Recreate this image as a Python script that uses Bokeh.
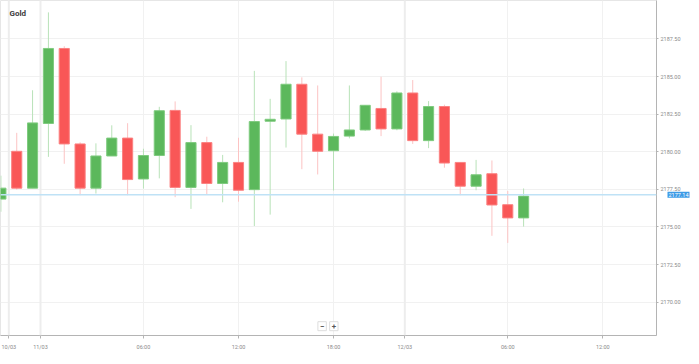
from bokeh.plotting import figure
from bokeh.models import (ColumnDataSource, FixedTicker, Span, Label, Range1d,
                          PrintfTickFormatter)
from bokeh.embed import file_html
from bokeh.resources import INLINE

# ---- data (hourly candles) ----
opens  = [2176.85, 2180.03, 2177.58, 2181.88, 2186.87, 2180.52, 2177.58, 2179.72,
          2180.91, 2178.19, 2179.75, 2182.75, 2177.63, 2180.61, 2177.89, 2179.29,
          2177.48, 2182.03, 2182.18, 2184.49, 2181.17, 2180.07, 2181.04, 2181.45,
          2182.88, 2181.52, 2183.91, 2180.74, 2183.01, 2179.29, 2177.71, 2178.54,
          2176.48, 2175.60]
highs  = [2178.41, 2181.26, 2184.09, 2189.27, 2187.02, 2180.63, 2180.56, 2181.76,
          2181.90, 2180.20, 2182.99, 2183.35, 2181.77, 2181.00, 2179.79, 2180.93,
          2185.38, 2183.52, 2186.03, 2184.95, 2184.41, 2181.21, 2184.41, 2183.09,
          2184.99, 2184.02, 2184.77, 2183.37, 2183.13, 2179.31, 2179.46, 2179.42,
          2177.39, 2177.56]
lows   = [2176.01, 2177.48, 2177.58, 2179.66, 2179.20, 2177.11, 2177.22, 2179.72,
          2177.11, 2177.55, 2178.23, 2176.98, 2176.20, 2177.16, 2176.64, 2176.68,
          2175.06, 2175.82, 2180.28, 2178.84, 2178.49, 2177.42, 2180.89, 2181.39,
          2181.04, 2181.43, 2180.52, 2180.24, 2178.94, 2177.11, 2177.44, 2174.41,
          2173.94, 2175.02]
closes = [2177.58, 2177.58, 2181.92, 2186.87, 2180.52, 2177.58, 2179.72, 2180.91,
          2178.15, 2179.75, 2182.73, 2177.63, 2180.61, 2177.89, 2179.29, 2177.44,
          2182.01, 2182.16, 2184.49, 2181.17, 2180.03, 2181.02, 2181.45, 2183.09,
          2181.52, 2183.91, 2180.74, 2183.01, 2179.25, 2177.71, 2178.47, 2176.46,
          2175.60, 2177.05]

time_tick_positions = [0.5, 2.5, 9, 15, 21, 25.5, 32, 38]
time_tick_labels = ["10/03", "11/03", "06:00", "12:00", "18:00", "12/03", "06:00", "12:00"]
day_tick_positions = [0.5, 2.5, 25.5]
price_ticks = [2170.0, 2172.5, 2175.0, 2177.5, 2180.0, 2182.5, 2185.0, 2187.5]
last_price = 2177.14
last_price_label = "2177.14"
title_text = "Gold"

# ---- build ----
INC_FILL, INC_LINE, INC_WICK = "#5cb85c", "#7fcb7f", "#b8e2b8"
DEC_FILL, DEC_LINE, DEC_WICK = "#f95757", "#fb8282", "#fcc3c3"

xs = list(range(len(opens)))
up = [c >= o for o, c in zip(opens, closes)]
src = ColumnDataSource(dict(
    x=xs, high=highs, low=lows,
    top=[max(o, c) for o, c in zip(opens, closes)],
    bottom=[min(o, c) for o, c in zip(opens, closes)],
    fill=[INC_FILL if u else DEC_FILL for u in up],
    line=[INC_LINE if u else DEC_LINE for u in up],
    wick=[INC_WICK if u else DEC_WICK for u in up],
))

x0, x1 = -0.025, 41.39
y0, y1 = 2167.78, 2190.06
FW, FH = 656, 335

p = figure(frame_width=FW, frame_height=FH, x_range=Range1d(x0, x1), y_range=Range1d(y0, y1),
           output_backend="svg", toolbar_location=None, y_axis_location="right",
           min_border_left=0, min_border_top=0, min_border_right=0, min_border_bottom=0)
p.background_fill_color = "white"
p.border_fill_color = "white"
p.outline_line_color = "#e6e6e6"

FONT = "Roboto"
# right (price) axis
p.yaxis.ticker = FixedTicker(ticks=price_ticks)
p.yaxis.formatter = PrintfTickFormatter(format="%.2f")
p.yaxis.axis_line_color = "#b4b4b4"
p.yaxis.major_tick_line_color = "#b4b4b4"
p.yaxis.major_tick_in = 0
p.yaxis.major_tick_out = 2
p.yaxis.minor_tick_line_color = None
p.yaxis.major_label_text_font = FONT
p.yaxis.major_label_text_font_size = "5.5px"
p.yaxis.major_label_text_color = "#8a8a8a"
p.yaxis.major_label_standoff = 2
p.yaxis.axis_label_standoff = 0

# bottom (time) axis
p.xaxis.ticker = FixedTicker(ticks=time_tick_positions)
p.xaxis.major_label_overrides = {pos: lab for pos, lab in zip(time_tick_positions, time_tick_labels)}
p.xaxis.axis_line_color = "#b4b4b4"
p.xaxis.major_tick_line_color = "#b4b4b4"
p.xaxis.major_tick_in = 0
p.xaxis.major_tick_out = 3
p.xaxis.minor_tick_line_color = None
p.xaxis.major_label_text_font = FONT
p.xaxis.major_label_text_font_size = "5.5px"
p.xaxis.major_label_text_color = "#8a8a8a"
p.xaxis.major_label_standoff = 5
p.xaxis.axis_label_standoff = 0

p.xgrid.ticker = FixedTicker(ticks=time_tick_positions)
p.ygrid.ticker = FixedTicker(ticks=price_ticks)
p.xgrid.grid_line_color = "#f1f1f1"
p.ygrid.grid_line_color = "#f1f1f1"

for d in day_tick_positions:
    p.add_layout(Span(location=d, dimension="height", line_color="#ededed", line_width=2))

# candles
p.segment(x0="x", y0="high", x1="x", y1="low", line_color="wick", line_width=1, source=src)
p.vbar(x="x", width=0.64, top="top", bottom="bottom", fill_color="fill",
       line_color="line", line_width=1, source=src)

# last price line and tag (tag drawn over the price-axis strip)
p.add_layout(Span(location=last_price, dimension="width", line_color="#bfe2f6", line_width=1.5))
p.add_layout(Label(x=-16, y=last_price, x_units="screen", text=last_price_label,
                   text_font=FONT, text_font_size="5.5px", text_color="white",
                   text_baseline="middle", background_fill_color="#3d9be6",
                   padding=1), "right")

# title
p.add_layout(Label(x=x0, y=y1, x_offset=9, y_offset=-8, text=title_text,
                   text_font=FONT, text_font_size="8px", text_font_style="bold",
                   text_color="#3a3a3a", text_baseline="top"))

# zoom buttons
btn_y = 2168.40
for bx, sym in [(20.28, "\u2212"), (21.02, "+")]:
    p.add_layout(Label(x=bx, y=btn_y, text=sym, text_font=FONT, text_font_size="8px",
                       text_font_style="bold", text_color="#555555", text_align="center",
                       text_baseline="middle", background_fill_color="white",
                       border_line_color="#dddddd", padding=2))

open("out.html", "w").write(file_html(p, INLINE))
